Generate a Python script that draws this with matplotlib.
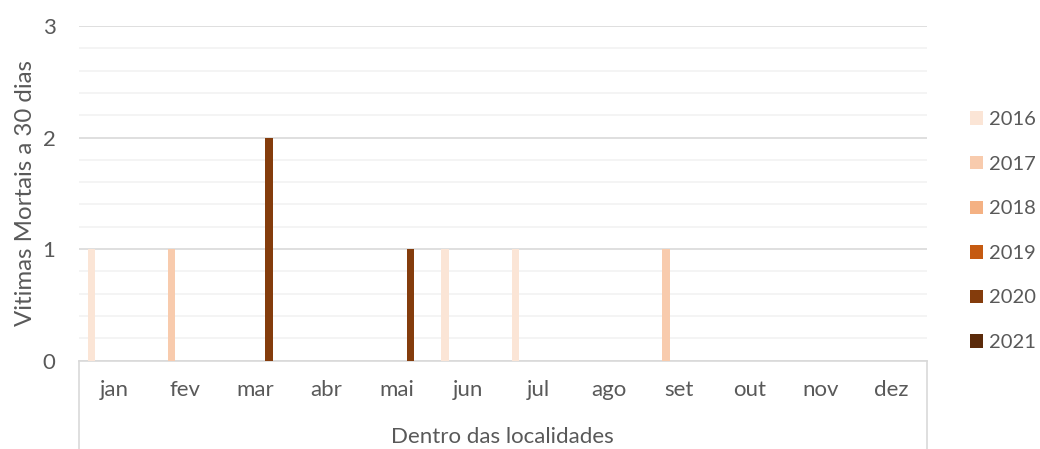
import matplotlib.pyplot as plt
from matplotlib.patches import Patch
from matplotlib.lines import Line2D
import numpy as np

plt.rcParams['font.family'] = ['Lato', 'DejaVu Sans']

# Months and victims per year (inside localities)
months = ['jan', 'fev', 'mar', 'abr', 'mai', 'jun', 'jul', 'ago', 'set', 'out', 'nov', 'dez']
years = ['2016', '2017', '2018', '2019', '2020', '2021']
v2016 = [1, 0, 0, 0, 0, 1, 1, 0, 0, 0, 0, 0]
v2017 = [0, 1, 0, 0, 0, 0, 0, 0, 1, 0, 0, 0]
v2018 = [0, 0, 0, 0, 0, 0, 0, 0, 0, 0, 0, 0]
v2019 = [0, 0, 0, 0, 0, 0, 0, 0, 0, 0, 0, 0]
v2020 = [0, 0, 2, 0, 1, 0, 0, 0, 0, 0, 0, 0]
v2021 = [0, 0, 0, 0, 0, 0, 0, 0, 0, 0, 0, 0]
series = [v2016, v2017, v2018, v2019, v2020, v2021]
colors = ['#FBE5D6', '#F8CBAD', '#F4B183', '#C55A11', '#843C0C', '#5B2A0A']

text_color = '#595959'

fig = plt.figure(figsize=(10.4, 4.49), dpi=100)
ax = fig.add_axes([0.076, 0.197, 0.815, 0.745])

x = np.arange(len(months))
slot = 0.128
width = 0.106
start = -0.5 + 0.116
for k, (vals, c) in enumerate(zip(series, colors)):
    ax.bar(x + start + slot * (k + 0.5), vals, width=width, color=c, zorder=3)

ax.set_xlim(-0.5, len(months) - 0.5)
ax.set_ylim(0, 3)
ax.set_yticks([0, 1, 2, 3])
ax.set_yticks(np.arange(0, 3.01, 0.2), minor=True)
ax.grid(axis='y', which='major', color='#D9D9D9', linewidth=1.2, zorder=0)
ax.grid(axis='y', which='minor', color='#F2F2F2', linewidth=1.2, zorder=0)
ax.set_xticks(x)
ax.set_xticklabels(months)
ax.tick_params(axis='both', which='both', length=0, labelsize=16, colors=text_color)
ax.tick_params(axis='y', pad=17)
ax.tick_params(axis='x', pad=14)

for s in ['top', 'right', 'left']:
    ax.spines[s].set_visible(False)
ax.spines['bottom'].set_color('#D9D9D9')
ax.spines['bottom'].set_linewidth(1.2)

# category box lines below the axis
for xe in (0, 1):
    ax.add_line(Line2D([xe, xe], [0, -0.3], transform=ax.transAxes,
                       color='#D9D9D9', linewidth=1.2, clip_on=False))

ax.text(0.5, -0.229, 'Dentro das localidades', transform=ax.transAxes,
        ha='center', va='center', fontsize=16, color=text_color)

ax.set_ylabel('Vitimas Mortais a 30 dias', fontsize=17.3, color=text_color, labelpad=5)

handles = [Patch(facecolor=c, edgecolor='none', label=y) for y, c in zip(years, colors)]
leg = ax.legend(handles=handles, loc='center left', bbox_to_anchor=(1.03, 0.387),
                frameon=False, fontsize=14.5, handlelength=0.65, handleheight=0.65,
                handletextpad=0.3, labelspacing=1.37)
for t in leg.get_texts():
    t.set_color(text_color)

fig.savefig('out.png', dpi=100)
